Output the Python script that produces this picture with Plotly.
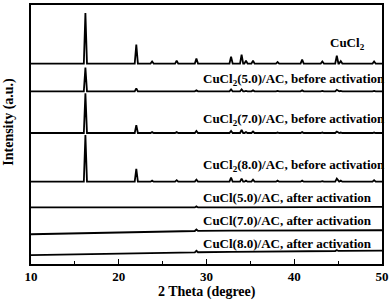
import numpy as np
import plotly.graph_objects as go

# ---- data (intensity in arbitrary offset units) ----
labels = [
    "CuCl<sub>2</sub>",
    "CuCl<sub>2</sub>(5.0)/AC, before activation",
    "CuCl<sub>2</sub>(7.0)/AC, before activation",
    "CuCl<sub>2</sub>(8.0)/AC, before activation",
    "CuCl(5.0)/AC, after activation",
    "CuCl(7.0)/AC, after activation",
    "CuCl(8.0)/AC, after activation",
]
# baseline anchor points (2theta, intensity) per pattern
baseline_x = [10, 30, 50]
baselines = [
    [202, 202, 202],
    [174, 174, 174],
    [132, 132, 132],
    [83, 83, 83],
    [57, 57, 57.5],
    [30, 33.5, 34],
    [9, 12, 13.5],
]
peak_pos = [16.2, 22.0, 23.8, 26.6, 28.85, 32.8, 34.0, 34.5, 35.3, 38.1, 40.9, 43.2, 44.85, 45.3, 49.1]
peak_heights = [
    [51, 19, 2, 3, 5, 7, 9, 3, 3, 1.5, 4, 2, 8, 2.5, 2],
    [24, 3, 0.5, 0.5, 1, 2, 2, 0.5, 1, 0.5, 1, 0.5, 1.5, 0.5, 0.5],
    [40, 8, 1, 1, 2, 2, 3, 1, 1.5, 0.5, 1, 0.5, 1.5, 0.5, 0.5],
    [47, 13, 1, 1.5, 2, 4, 3, 1, 2, 1, 1, 0.5, 3, 1, 1.5],
    [0, 0, 0, 0, 1, 0, 0.5, 0, 0, 0, 0, 0, 0.5, 0, 0],
    [0, 0, 0, 0, 1.5, 0, 0.5, 0, 0, 0, 0, 0, 0.5, 0, 0],
    [0, 0, 0, 0, 1.5, 0, 0.5, 0, 0, 0, 0, 0, 1, 0, 0],
]
label_y = [222, 186, 146, 99, 67, 44, 21]
label_x = [43.8, 29.35, 29.35, 29.35, 29.35, 29.35, 29.35]
x_ticks = [10, 20, 30, 40, 50]

FONT = "Liberation Serif"
fig = go.Figure()
hw = 0.18
for base, hts in zip(baselines, peak_heights):
    xs = [10.0]
    for p, h in zip(peak_pos, hts):
        if h > 0:
            xs += [p - hw, p, p + hw]
        else:
            xs += [p]
    xs.append(50.0)
    xs = np.array(xs)
    ys = np.interp(xs, baseline_x, base)
    k = 1
    for p, h in zip(peak_pos, hts):
        if h > 0:
            ys[k + 1] += h
            k += 3
        else:
            k += 1
    fig.add_trace(go.Scatter(x=xs, y=ys, mode="lines",
                             line=dict(color="black", width=1.8),
                             showlegend=False, hoverinfo="skip"))

for i, (t, yy) in enumerate(zip(labels, label_y)):
    fig.add_annotation(x=label_x[i], y=yy, text=t, showarrow=False,
                       xanchor="left", yanchor="middle",
                       font=dict(family=FONT, size=13, color="black", weight="bold"))

fig.add_annotation(xref="paper", yref="paper", x=0.5, y=-0.11, text="2 Theta (degree)",
                   showarrow=False, xanchor="center", yanchor="middle",
                   font=dict(family=FONT, size=14, color="black", weight="bold"))
fig.add_annotation(xref="paper", yref="paper", x=-0.065, y=0.55, text="Intensity (a.u.)",
                   showarrow=False, textangle=-90, xanchor="center", yanchor="middle",
                   font=dict(family=FONT, size=14, color="black", weight="bold"))

fig.update_layout(
    width=392, height=300,
    margin=dict(l=31, r=9, t=3, b=36),
    paper_bgcolor="white", plot_bgcolor="white",
    xaxis=dict(range=[10, 50], tickvals=x_ticks, ticktext=[str(v) for v in x_ticks],
               ticks="inside", ticklen=5, tickwidth=1.2, tickcolor="black",
               minor=dict(tickvals=[15, 25, 35, 45], ticks="inside", ticklen=3, tickcolor="black"),
               showline=True, linecolor="black", linewidth=1.5, mirror=True,
               showgrid=False, zeroline=False,
               tickfont=dict(family=FONT, size=13, color="black", weight="bold")),
    yaxis=dict(range=[0, 261], showticklabels=False, ticks="",
               showline=True, linecolor="black", linewidth=1.5, mirror=True,
               showgrid=False, zeroline=False),
)
fig.write_html("out.html", config={"displayModeBar": False},
               post_script="document.body.style.margin='0';document.body.style.overflow='hidden';")
